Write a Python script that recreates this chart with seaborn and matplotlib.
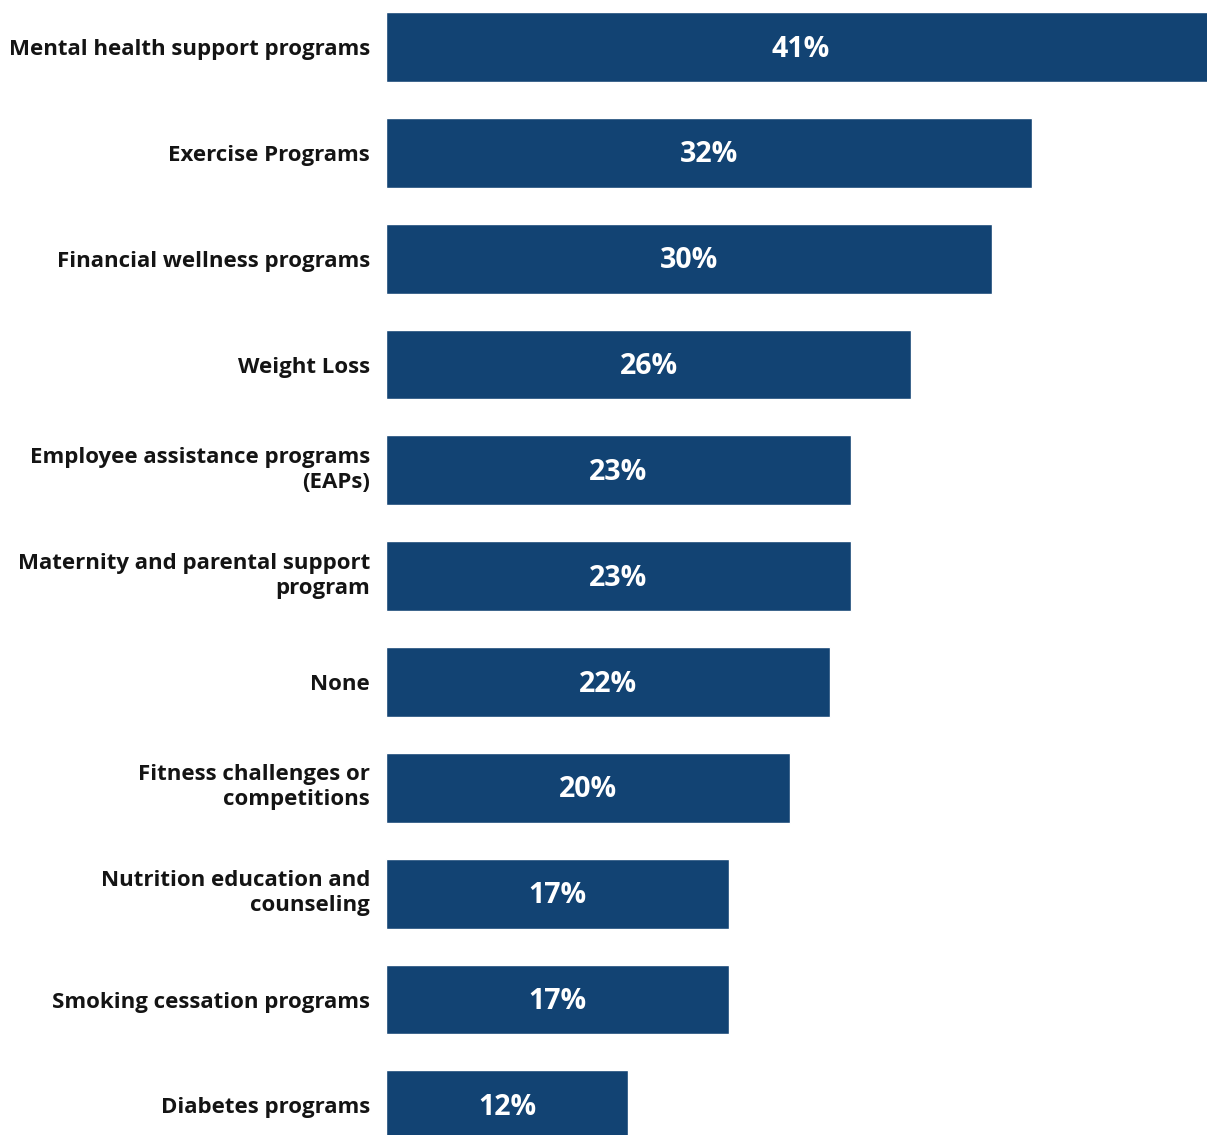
import matplotlib
matplotlib.use("Agg")
import matplotlib.pyplot as plt
import matplotlib.transforms as mtransforms
import seaborn as sns
import pandas as pd

categories = [
    "Mental health support programs",
    "Exercise Programs",
    "Financial wellness programs",
    "Weight Loss",
    "Employee assistance programs\n(EAPs)",
    "Maternity and parental support\nprogram",
    "None",
    "Fitness challenges or\ncompetitions",
    "Nutrition education and\ncounseling",
    "Smoking cessation programs",
    "Diabetes programs",
]
shares = [41, 32, 30, 26, 23, 23, 22, 20, 17, 17, 12]

df = pd.DataFrame({"program": categories, "share": shares})

sns.set_theme(style="white")
plt.rcParams["font.family"] = ["Open Sans", "DejaVu Sans"]

fig = plt.figure(figsize=(12.07, 11.35), dpi=100)
ax = fig.add_axes([386 / 1207, 0, 1 - 386 / 1207, 1])

bar_color = "#124373"
sns.barplot(data=df, x="share", y="program", orient="h", color=bar_color,
            width=0.66, saturation=1, ax=ax)

for i, v in enumerate(shares):
    ax.text(v / 2, i + 0.02, f"{v}%", ha="center", va="center", color="white",
            fontsize=20.5, fontweight="bold")

ax.set_xlim(0, 40.64)
ax.set_ylim(10.28, -0.444)
ax.set_xlabel("")
ax.set_ylabel("")
ax.set_xticks([])
for s in ax.spines.values():
    s.set_visible(False)
ax.tick_params(axis="y", length=0, pad=11.5)

# nudge two-line labels up a little so they sit centred on their bars
lift = mtransforms.ScaledTranslation(0, 0.05, fig.dpi_scale_trans)
for lbl in ax.get_yticklabels():
    lbl.set_fontsize(16)
    lbl.set_fontweight("bold")
    lbl.set_color("#141414")
    lbl.set_linespacing(1.25)
    if "\n" in lbl.get_text():
        lbl.set_transform(lbl.get_transform() + lift)

fig.savefig("out.png", dpi=100, facecolor="white")
